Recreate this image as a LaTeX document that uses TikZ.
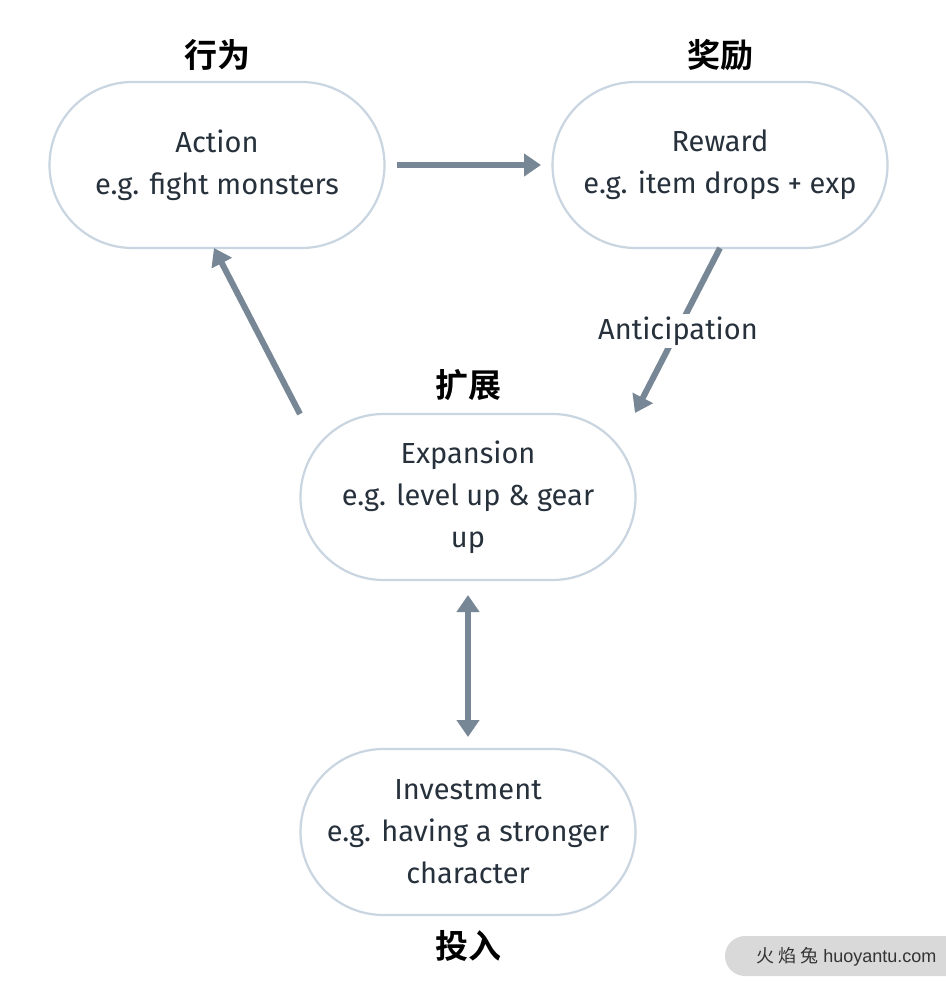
\documentclass[tikz,border=0pt]{standalone}
\usepackage{fontspec}
\setmainfont{Fira Sans}
\newfontfamily\cjk{Noto Sans CJK SC}
\newfontfamily\cjkb{Noto Sans CJK SC Bold}
\newfontfamily\wmfont{Liberation Sans}
\usetikzlibrary{arrows.meta}
\definecolor{bordc}{HTML}{C9D5E0}
\definecolor{arrc}{HTML}{788796}
\definecolor{txtc}{HTML}{27313C}
\tikzset{
  stadium/.style={draw=bordc, line width=2.2pt, rounded corners=83pt, minimum width=335pt, minimum height=166pt, align=center, text=txtc, font=\fontsize{29}{42}\selectfont, inner sep=0pt},
  cnlabel/.style={text=black, font=\cjkb\fontsize{33}{36}\selectfont},
  conn/.style={draw=arrc, line width=6pt, -{Triangle[width=22pt,length=17pt]}},
  dconn/.style={draw=arrc, line width=6pt, {Triangle[width=22pt,length=17pt]}-{Triangle[width=22pt,length=17pt]}},
}
\begin{document}
\begin{tikzpicture}[x=1pt,y=-1pt]
\useasboundingbox (0,0) rectangle (945,992);
\fill[white] (0,0) rectangle (945,992);
\node[stadium] (action) at (217,165) {Action\\e.g. fight monsters};
\node[stadium] (reward) at (720,165) {Reward\\e.g. item drops + exp};
\node[stadium] (expansion) at (468,497) {Expansion\\e.g. level up \& gear\\up};
\node[stadium] (invest) at (468,832) {Investment\\e.g. having a stronger\\character};
\node[cnlabel] (l1) at (217,55) {行为};
\node[cnlabel] (l2) at (720,55) {奖励};
\node[cnlabel] (l3) at (468,385) {扩展};
\node[cnlabel] (l4) at (468,946) {投入};
\coordinate (a1) at (397,165);
\coordinate (a2) at (541,165);
\draw[conn] (a1) -- (a2);
\coordinate (b1) at (720,248);
\coordinate (b2) at (635,413);
\draw[conn] (b1) -- (b2);
\node[fill=white, text=txtc, font=\fontsize{29}{32}\selectfont, inner sep=3pt] (antic) at (678,331) {Anticipation};
\coordinate (c1) at (300,414);
\coordinate (c2) at (214,248);
\draw[conn] (c1) -- (c2);
\coordinate (d1) at (468,595);
\coordinate (d2) at (468,737);
\draw[dconn] (d1) -- (d2);
\fill[black!15, rounded corners=20pt] (725,936) rectangle (990,976);
\node[text=black!80, font=\wmfont\fontsize{18}{22}\selectfont, anchor=west, inner sep=0pt] (wm) at (756,957) {{\cjk 火 焰 兔} huoyantu.com};
\end{tikzpicture}
\end{document}
